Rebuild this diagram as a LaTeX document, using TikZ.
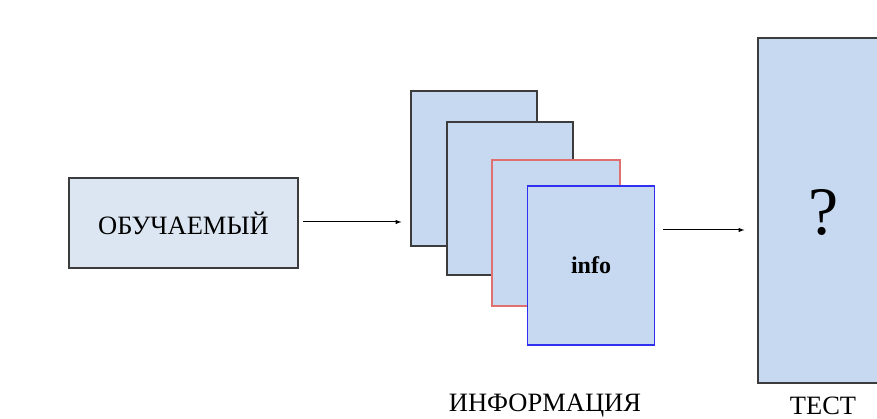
\documentclass[tikz,border=0pt]{standalone}
\usepackage{fontspec}
\setmainfont{Liberation Serif}
\usepackage{xcolor}
\usetikzlibrary{arrows}
\usetikzlibrary{calc}

\definecolor{boxfill}{HTML}{C6D9F1}
\definecolor{lightfill}{HTML}{DCE6F2}
\definecolor{boxedge}{HTML}{3C3C3C}
\definecolor{rededge}{HTML}{E07070}
\definecolor{blueedge}{HTML}{3030F0}

\tikzset{
  card/.style={draw=boxedge, fill=boxfill, line width=1.2pt, inner sep=0pt},
  caption/.style={font=\fontsize{26.5}{30}\selectfont}
}

\begin{document}
\begin{tikzpicture}[x=1pt, y=-1pt]
      \useasboundingbox (0,0) rectangle (877,419);

      % learner block
      \node[card, fill=lightfill, minimum width=229pt, minimum height=90pt,
        caption] (learner) at (183.5,223) {ОБУЧАЕМЫЙ};

      % stack of information sheets
      \node[card, minimum width=126pt, minimum height=155pt] (sheet-1) at (474,168.5) {};
      \node[card, minimum width=126pt, minimum height=153pt] (sheet-2) at (510,198.5) {};
      \node[card, draw=rededge, minimum width=128pt, minimum height=146pt] (sheet-3) at (556,233) {};
      \node[card, draw=blueedge, line width=1.4pt, minimum width=127pt, minimum height=159pt,
        font=\bfseries\fontsize{24}{28}\selectfont] (sheet-4) at (591,265.5) {info};

      % test block, cut by the right margin
      \node[card, minimum width=130pt, minimum height=345pt] (test) at (823,210.5) {};
      \node[font=\fontsize{68}{72}\selectfont] (mark) at (824,212) {?};

      \node[caption] (info-label) at (545,406) {ИНФОРМАЦИЯ};
      \node[caption] (test-label) at (823,406) {ТЕСТ};

      \coordinate (a-in) at (303,222);
      \coordinate (b-out) at (663,230);
      \draw[->, >=latex, line width=1pt] (a-in) -- ($(a-in -| sheet-1.west)+(-9,0)$);
      \draw[->, >=latex, line width=1pt] (b-out) -- ($(b-out -| test.west)+(-13,0)$);
    \end{tikzpicture}
\end{document}
